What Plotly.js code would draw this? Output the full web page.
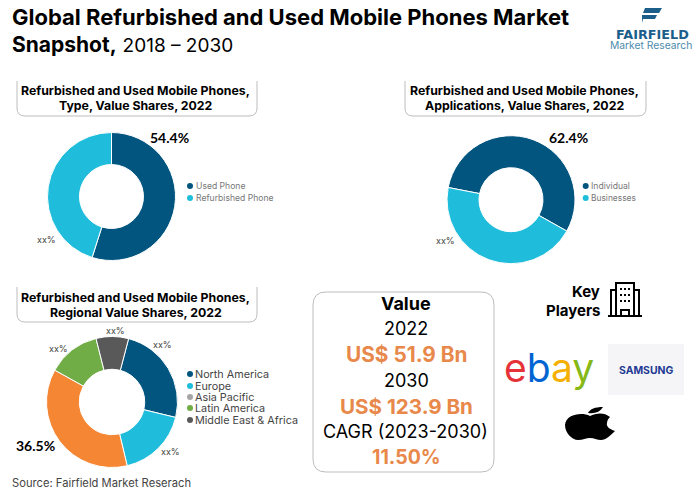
<!DOCTYPE html>
<html>

<head>
    <meta charset="UTF-8">
    <script src="https://cdn.plot.ly/plotly-3.0.1.min.js"></script>
    <style>
        html, body { margin: 0; padding: 0; background: #fff; }
    </style>
</head>

<body>
    <div id="chart" style="width: 700px; height: 491px;"></div>

    <script>
        // shares as drawn in the picture, the printed labels do not always agree with the slice size
        const typeLabels = ['Used Phone', 'Refurbished Phone']
        const typeValues = [54.9, 45.1]
        const typeText = ['54.4%', 'xx%']

        const appLabels = ['Individual', 'Businesses']
        const appValues = [55.1, 44.9]
        const appText = ['62.4%', 'xx%']

        const regionLabels = ['North America', 'Europe', 'Asia Pacific', 'Latin America', 'Middle East & Africa']
        const regionValues = [24.7, 17.5, 36.8, 13.0, 8.0]
        const regionText = ['xx%', 'xx%', '36.5%', 'xx%', 'xx%']

        const valueLines = ['Value', '2022', 'US$ 51.9 Bn', '2030', 'US$ 123.9 Bn', 'CAGR (2023-2030)', '11.50%']

        const BLUE = '#02557F'
        const CYAN = '#1FBDDB'
        const ORANGE = '#F58634'
        const GREEN = '#70AD47'
        const DARK = '#595959'
        const GREY = '#A5A5A5'
        const font = 'Inter, "Open Sans", sans-serif'

        function donut(labels, values, colors, cx, cy, r, rotation) {
            return {
                type: 'pie',
                labels: labels,
                values: values,
                hole: 0.5,
                sort: false,
                direction: 'clockwise',
                rotation: rotation,
                textinfo: 'none',
                hoverinfo: 'none',
                marker: { colors: colors, line: { color: '#fff', width: 1 } },
                domain: { x: [(cx - r) / 700, (cx + r) / 700], y: [1 - (cy + r) / 491, 1 - (cy - r) / 491] }
            }
        }

        function note(x, y, text, size, color, anchor, family) {
            return {
                xref: 'x', yref: 'y', x: x, y: y, text: text,
                showarrow: false, xanchor: anchor || 'center', yanchor: 'middle',
                borderpad: 0,
                font: { family: family || font, size: size, color: color || '#000' }
            }
        }

        // open topped header box
        function headerBox(x0, x1, y0, y1) {
            return {
                type: 'path', xref: 'x', yref: 'y',
                path: `M ${x0} ${y0} L ${x0} ${y1 - 8} Q ${x0} ${y1} ${x0 + 8} ${y1} L ${x1 - 8} ${y1} Q ${x1} ${y1} ${x1} ${y1 - 8} L ${x1} ${y0}`,
                line: { color: '#BDBDBD', width: 1 }
            }
        }

        function solid(path, color) {
            return { type: 'path', xref: 'x', yref: 'y', path: path, fillcolor: color, line: { width: 0 } }
        }

        function outline(path) {
            return { type: 'path', xref: 'x', yref: 'y', path: path, line: { color: '#000', width: 2 } }
        }

        const dots = {
            type: 'scatter',
            mode: 'markers',
            hoverinfo: 'none',
            x: [190, 190, 585.7, 585.7, 190, 190, 190, 190, 190],
            y: [186, 198, 186, 198, 374, 386, 397, 408, 420],
            marker: { size: 6, color: [BLUE, CYAN, BLUE, CYAN, BLUE, CYAN, GREY, GREEN, DARK] }
        }

        const annotations = [
            note(11, 17, '<b>Global Refurbished and Used Mobile Phones Market</b>', 22, '#000', 'left'),
            note(11, 44, '<b>Snapshot,</b> <span style="font-size:19px">2018 – 2030</span>', 21, '#000', 'left'),

            note(135, 90, '<b>Refurbished and Used Mobile Phones,</b>', 12.3),
            note(136, 105, '<b>Type, Value Shares, 2022</b>', 12.3),
            note(524, 90, '<b>Refurbished and Used Mobile Phones,</b>', 12.3),
            note(524, 105, '<b>Applications, Value Shares, 2022</b>', 12.3),
            note(135, 297, '<b>Refurbished and Used Mobile Phones,</b>', 12.3),
            note(136, 312, '<b>Regional Value Shares, 2022</b>', 12.3),

            note(169, 137, `<b>${typeText[0]}</b>`, 14, '#000', 'center', 'Lato'),
            note(46, 239, typeText[1], 9, '#444'),
            note(568, 137, `<b>${appText[0]}</b>`, 14, '#000', 'center', 'Lato'),
            note(445, 240, appText[1], 9, '#444'),

            note(162, 344, regionText[0], 9, '#444'),
            note(170, 451, regionText[1], 9, '#444'),
            note(35, 445, `<b>${regionText[2]}</b>`, 14, '#000', 'center', 'Lato'),
            note(58, 348, regionText[3], 9, '#444'),
            note(115, 330, regionText[4], 9, '#444'),

            note(195, 186, typeLabels[0], 8.6, '#777', 'left'),
            note(195, 198, typeLabels[1], 8.6, '#777', 'left'),
            note(590, 186, appLabels[0], 8.6, '#777', 'left'),
            note(590, 198, appLabels[1], 8.4, '#777', 'left'),
            note(194, 374, regionLabels[0], 10.8, '#444', 'left'),
            note(194, 386, regionLabels[1], 10.8, '#444', 'left'),
            note(194, 397, regionLabels[2], 10.8, '#444', 'left'),
            note(194, 408, regionLabels[3], 10.8, '#444', 'left'),
            note(194, 420, regionLabels[4], 10.8, '#444', 'left'),

            note(406, 303, `<b>${valueLines[0]}</b>`, 18),
            note(406, 328, valueLines[1], 18),
            note(406, 354, `<b>${valueLines[2]}</b>`, 20.8, '#E8884A'),
            note(406, 380, valueLines[3], 18),
            note(406, 406, `<b>${valueLines[4]}</b>`, 20.6, '#E8884A'),
            note(405, 431, valueLines[5], 18),
            note(406, 457, `<b>${valueLines[6]}</b>`, 19.5, '#E8884A'),

            note(601, 291, '<b>Key</b>', 15, '#000', 'right'),
            note(601, 310, '<b>Players</b>', 15, '#000', 'right'),

            note(652, 34, '<b>FAIRFIELD</b>', 12.8, '#1B5E8A', 'center', '"DejaVu Sans", sans-serif'),
            note(651, 45, 'Market Research', 10.3, '#4D8BAD'),

            note(549, 367, '<span style="color:#E53238">e</span><span style="color:#0064D2">b</span><span style="color:#F5AF02">a</span><span style="color:#86B817">y</span>', 39),
            note(646, 370, '<b>SAMSUNG</b>', 10.4, '#1F3A93'),

            note(11, 483, 'Source: Fairfield Market Reserach', 11.2, '#444', 'left')
        ]

        const shapes = [
            headerBox(17, 257, 81, 116),
            headerBox(405, 646, 81, 116),
            headerBox(17, 257, 287, 322),
            {
                type: 'path', xref: 'x', yref: 'y',
                path: 'M 326 292 L 481 292 Q 494 292 494 305 L 494 459 Q 494 472 481 472 L 326 472 Q 313 472 313 459 L 313 305 Q 313 292 326 292 Z',
                line: { color: '#BDBDBD', width: 1 }
            },
            { type: 'rect', xref: 'x', yref: 'y', x0: 608, x1: 684, y0: 344, y1: 395, fillcolor: '#F5F5F7', line: { width: 0 }, layer: 'below' },

            // building icon
            outline('M 608 316 L 642 316 M 611 316 L 611 290 L 616 290 M 639 316 L 639 290 L 634 290 M 616 316 L 616 283 L 634 283 L 634 316'),
            outline('M 621 316 L 621 310 L 629 310 L 629 316'),
            outline('M 620 289 L 622 289 M 624 289 L 626 289 M 628 289 L 630 289 M 620 295 L 622 295 M 624 295 L 626 295 M 628 295 L 630 295 M 620 301 L 622 301 M 624 301 L 626 301 M 628 301 L 630 301'),

            // apple
            solid('M 590 416 C 582 412 566 414 565 425 C 565 433 572 440 578 440 C 583 440 586 438 590 438 C 594 438 597 440 601 440 C 606 440 611 435 615 431 C 609 429 606 426 607 423 C 607 420 609 418 610 417 C 604 412 596 413 590 416 Z', '#000'),
            solid('M 588 413 C 590 409 595 407 603 407 C 600 412 595 414 588 413 Z', '#000'),

            // fairfield mark
            solid('M 645 8 L 662 8 L 659 13 L 643 13 Z', '#1B5E8A'),
            solid('M 642 15 L 657 15 L 655 19 L 643 19 L 642 23 Z', '#1B5E8A')
        ]

        const data = [
            dots,
            donut(typeLabels, typeValues, [BLUE, CYAN], 111.5, 196.5, 64, 0),
            donut(appLabels, appValues, [BLUE, CYAN], 511, 199.7, 64, 281),
            donut(regionLabels, regionValues, [BLUE, CYAN, ORANGE, GREEN, DARK], 112, 402, 65.5, 14.7)
        ]

        const layout = {
            width: 700,
            height: 491,
            margin: { l: 0, r: 0, t: 0, b: 0 },
            paper_bgcolor: '#fff',
            plot_bgcolor: 'rgba(0,0,0,0)',
            showlegend: false,
            xaxis: { range: [0, 700], visible: false, fixedrange: true },
            yaxis: { range: [491, 0], visible: false, fixedrange: true },
            annotations: annotations,
            shapes: shapes
        }

        Plotly.newPlot('chart', data, layout, { staticPlot: true })
    </script>
</body>

</html>
